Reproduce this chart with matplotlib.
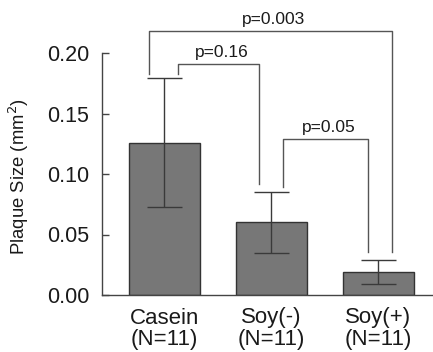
import numpy as np
import matplotlib.pyplot as plt

plt.rcParams['font.family'] = ['Liberation Sans', 'DejaVu Sans']

# group means and error (half-width) of plaque size, mm^2
groups = ['Casein', 'Soy(-)', 'Soy(+)']
n_per_group = [11, 11, 11]
plaque = [0.126, 0.060, 0.019]
err = [0.053, 0.025, 0.010]

# pairwise comparisons: (left group, right group, p value, bracket top)
comparisons = [
    (0, 2, '0.003', 0.2184),
    (0, 1, '0.16', 0.191),
    (1, 2, '0.05', 0.129),
]
# horizontal offsets of bracket legs from the bar centres
leg_dx = {(0, 2): (-0.145, 0.13), (0, 1): (0.123, -0.117), (1, 2): (0.11, -0.095)}

fig = plt.figure(figsize=(4.33, 3.52), dpi=100)
ax = fig.add_axes([102/433, 57/352, 331/433, 242/352])

x = np.arange(len(groups))
ax.bar(x, plaque, width=0.67, color='#777777', edgecolor='#333333', linewidth=1.0, zorder=2)
ax.errorbar(x, plaque, yerr=err, fmt='none', ecolor='#3a3a3a', elinewidth=1.0,
            capsize=12.6, capthick=1.0, zorder=3)

tops = np.array(plaque) + np.array(err)
for i, j, p, ytop in comparisons:
    dl, dr = leg_dx[(i, j)]
    xl, xr = x[i] + dl, x[j] + dr
    yl = tops[i] + 0.004
    yr = tops[j] + 0.0065
    ax.plot([xl, xl, xr, xr], [yl, ytop, ytop, yr], color='#555555', lw=1.0,
            clip_on=False, zorder=4)
    ax.text((xl + xr) / 2 + 0.03, ytop + 0.003, 'p=' + p, ha='center', va='bottom',
            fontsize=12.5, color='#1a1a1a', clip_on=False)

ax.set_xlim(-0.584, 2.51)
ax.set_ylim(0, 0.2)
ax.set_yticks([0.0, 0.05, 0.10, 0.15, 0.20])
ax.set_yticklabels(['0.00', '0.05', '0.10', '0.15', '0.20'])
ax.set_xticks(x)
ax.set_xticklabels([f'{g}\n(N={n})' for g, n in zip(groups, n_per_group)], linespacing=1.05)
ax.tick_params(axis='y', direction='in', length=5, width=1, color='#444444',
               labelsize=15.5, pad=9, labelcolor='#1a1a1a')
ax.tick_params(axis='x', length=0, labelsize=16, pad=9, labelcolor='#1a1a1a')

for s in ['top', 'right']:
    ax.spines[s].set_visible(False)
for s in ['left', 'bottom']:
    ax.spines[s].set_color('#444444')
    ax.spines[s].set_linewidth(1.0)

ax.set_ylabel('Plaque Size (mm$^2$)', fontsize=13.3, color='#1a1a1a')
ax.yaxis.set_label_coords(-0.215, 0.49)

fig.savefig('out.png', dpi=100)
